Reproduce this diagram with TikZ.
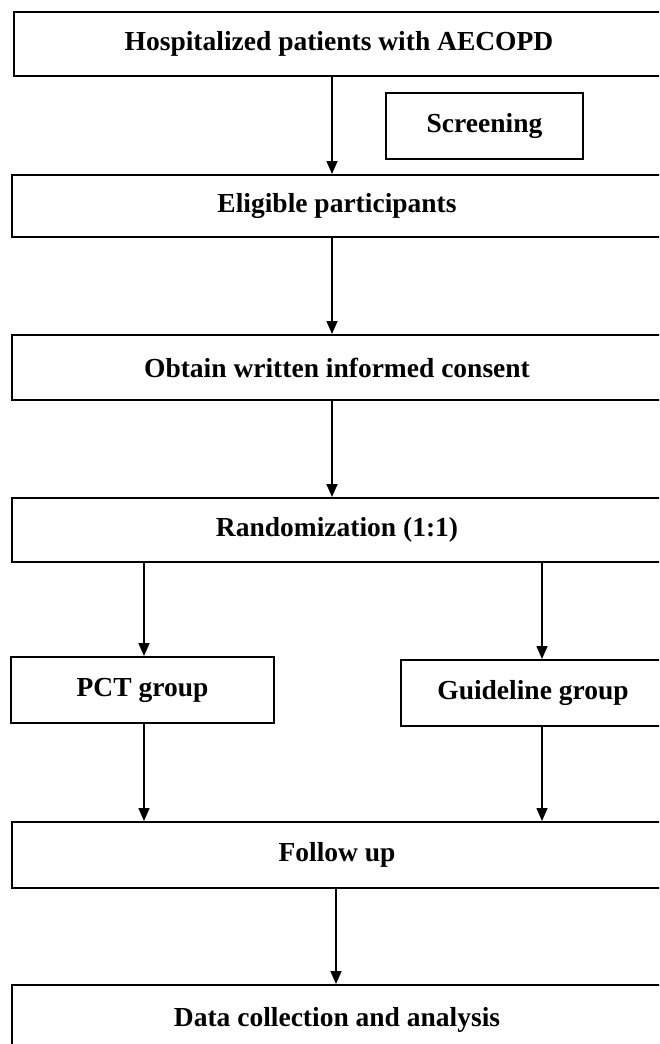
\documentclass[tikz,border=0pt]{standalone}
\usepackage{fontspec}
\setmainfont{Liberation Serif}
\usetikzlibrary{arrows.meta}

\tikzset{
  stage/.style={draw, line width=2pt, minimum width=650pt, minimum height=64pt,
    inner sep=0pt, font=\fontsize{27.5}{32}\selectfont\bfseries},
  arm/.style={stage, minimum width=264pt},
  flow/.style={line width=1.6pt, -{Triangle[length=13pt,width=11pt]}}
}

\begin{document}
\begin{tikzpicture}[x=1pt, y=-1pt]
  \useasboundingbox (0,0) rectangle (659,1044);
  \clip (0,0) rectangle (659,1044);
  \node[stage] (hosp) at (339, 43.5) {Hospitalized patients with AECOPD};
  \node[stage, minimum width=197pt, minimum height=66pt] (screen) at (484.5, 126) {Screening};
  \node[stage, minimum height=62pt] (elig) at (337, 206) {Eligible participants};
  \node[stage, minimum height=65pt] (consent) at (337, 367.5) {Obtain written informed consent};
  \node[stage] (rand) at (337, 530) {Randomization (1:1)};
  \node[arm, minimum width=263pt, minimum height=66pt] (pct) at (142.5, 690) {PCT group};
  \node[arm, minimum height=66pt] (guide) at (533, 693) {Guideline group};
  \node[stage, minimum height=66pt] (follow) at (337, 855) {Follow up};
  \node[stage, minimum height=70pt] (data) at (337, 1020) {Data collection and analysis};
  \draw[flow] ([xshift=-7pt]hosp.south) -- ([xshift=-5pt]elig.north);
  \draw[flow] ([xshift=-5pt]elig.south) -- ([xshift=-5pt]consent.north);
  \draw[flow] ([xshift=-5pt]consent.south) -- ([xshift=-5pt]rand.north);
  \draw[flow] (rand.south -| pct.north) ++(1.5pt,0) -- ([xshift=1.5pt]pct.north);
  \draw[flow] (rand.south -| guide.north) ++(9pt,0) -- ([xshift=9pt]guide.north);
  \draw[flow] ([xshift=1.5pt]pct.south) -- ([xshift=1.5pt]pct.south |- follow.north);
  \draw[flow] ([xshift=9pt]guide.south) -- ([xshift=9pt]guide.south |- follow.north);
  \draw[flow] ([xshift=-1pt]follow.south) -- ([xshift=-1pt]data.north);
\end{tikzpicture}
\end{document}
